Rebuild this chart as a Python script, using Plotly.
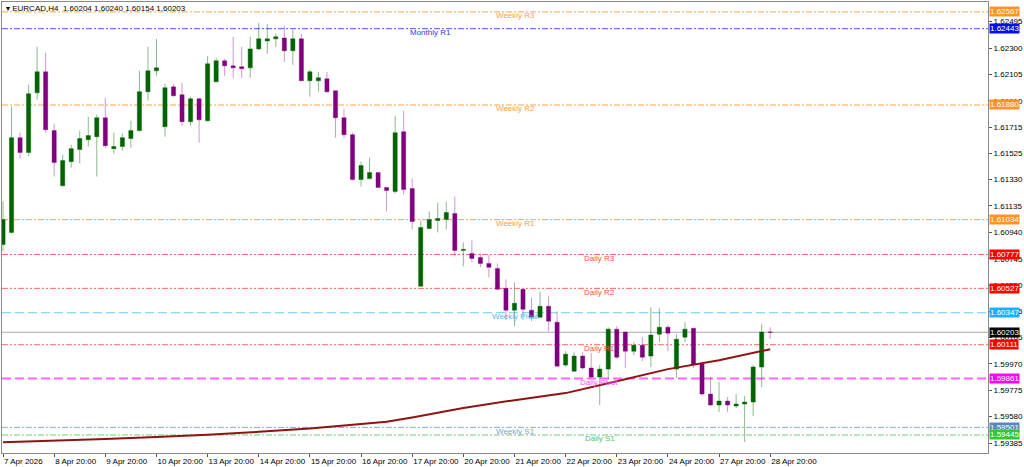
import plotly.graph_objects as go

# ---------------- data ----------------
trade_days = ["2026-04-07", "2026-04-08", "2026-04-09", "2026-04-10", "2026-04-13", "2026-04-14",
              "2026-04-15", "2026-04-16", "2026-04-17", "2026-04-20", "2026-04-21", "2026-04-22",
              "2026-04-23", "2026-04-24", "2026-04-27", "2026-04-28"]
h4_hours = ["00:00", "04:00", "08:00", "12:00", "16:00", "20:00"]
times = ["2026-04-07 20:00"] + [f"{d} {h}" for d in trade_days[1:] for h in h4_hours]

opens = [1.60851, 1.60940, 1.61639, 1.61529, 1.61970, 1.62125, 1.61691, 1.61285, 1.61462, 1.61551,
         1.61624, 1.61646, 1.61786, 1.61558, 1.61573, 1.61632, 1.61691, 1.61978, 1.62132, 1.61720,
         1.62014, 1.61956, 1.61757, 1.61926, 1.61764, 1.62051, 1.62206, 1.62169, 1.62162, 1.62154,
         1.62294, 1.62353, 1.62368, 1.62375, 1.62280, 1.62368, 1.62059, 1.62059, 1.62073, 1.61985,
         1.61786, 1.61661, 1.61330, 1.61337, 1.61381, 1.61271, 1.61241, 1.61683, 1.61263, 1.60542,
         1.60969, 1.61028, 1.61035, 1.61079, 1.60807, 1.60785, 1.60755, 1.60711, 1.60674, 1.60527,
         1.60366, 1.60520, 1.60366, 1.60314, 1.60395, 1.60277, 1.59961, 1.59916, 1.60027, 1.59939,
         1.59872, 1.59931, 1.60226, 1.60204, 1.60063, 1.60108, 1.60027, 1.60189, 1.60240, 1.59931,
         1.60167, 1.60233, 1.59968, 1.59747, 1.59666, 1.59695, 1.59659, 1.59673, 1.59688, 1.59946,
         1.60204]
highs = [1.61168, 1.61867, 1.61676, 1.62029, 1.62309, 1.62265, 1.61742, 1.61514, 1.61587, 1.61691,
         1.61793, 1.61808, 1.61933, 1.61676, 1.61669, 1.61764, 1.62132, 1.62309, 1.62368, 1.62036,
         1.62036, 1.62044, 1.61941, 1.61933, 1.62243, 1.62228, 1.62221, 1.62383, 1.62309, 1.62383,
         1.62486, 1.62478, 1.62405, 1.62464, 1.62434, 1.62405, 1.62140, 1.62125, 1.62125, 1.61985,
         1.61852, 1.61676, 1.61462, 1.61492, 1.61381, 1.61278, 1.61801, 1.61838, 1.61337, 1.61028,
         1.61094, 1.61160, 1.61168, 1.61205, 1.60866, 1.60881, 1.60785, 1.60776, 1.60711, 1.60594,
         1.60571, 1.60520, 1.60460, 1.60505, 1.60468, 1.60358, 1.60063, 1.60056, 1.60056, 1.60049,
         1.59961, 1.60240, 1.60248, 1.60211, 1.60130, 1.60167, 1.60387, 1.60380, 1.60255, 1.60189,
         1.60277, 1.60233, 1.59983, 1.59872, 1.59835, 1.59725, 1.59747, 1.59732, 1.59961, 1.60263,
         1.60240]
lows = [1.60800, 1.60932, 1.61484, 1.61499, 1.61919, 1.61676, 1.61352, 1.61278, 1.61418, 1.61448,
        1.61573, 1.61352, 1.61565, 1.61521, 1.61543, 1.61565, 1.61683, 1.61911, 1.62095, 1.61646,
        1.61941, 1.61727, 1.61727, 1.61602, 1.61757, 1.62051, 1.62095, 1.62081, 1.62081, 1.62081,
        1.62287, 1.62257, 1.62309, 1.62198, 1.62176, 1.62059, 1.61941, 1.61978, 1.61970, 1.61639,
        1.61639, 1.61322, 1.61278, 1.61330, 1.61271, 1.61094, 1.61227, 1.61219, 1.60962, 1.60542,
        1.60962, 1.60940, 1.60962, 1.60763, 1.60689, 1.60719, 1.60682, 1.60608, 1.60512, 1.60292,
        1.60248, 1.60292, 1.60285, 1.60307, 1.60211, 1.59953, 1.59946, 1.59909, 1.59931, 1.59865,
        1.59666, 1.59857, 1.60005, 1.59939, 1.60034, 1.59990, 1.59946, 1.60130, 1.60063, 1.59865,
        1.60130, 1.59939, 1.59732, 1.59659, 1.59614, 1.59614, 1.59644, 1.59394, 1.59585, 1.59798,
        1.60154]
closes = [1.61035, 1.61639, 1.61529, 1.61963, 1.62125, 1.61698, 1.61455, 1.61470, 1.61558, 1.61632,
          1.61654, 1.61786, 1.61580, 1.61573, 1.61639, 1.61691, 1.61978, 1.62132, 1.62154, 1.62007,
          1.61948, 1.61757, 1.61926, 1.61771, 1.62184, 1.62206, 1.62169, 1.62154, 1.62147, 1.62294,
          1.62368, 1.62368, 1.62383, 1.62280, 1.62368, 1.62059, 1.62125, 1.62081, 1.61978, 1.61786,
          1.61661, 1.61330, 1.61433, 1.61381, 1.61271, 1.61249, 1.61676, 1.61256, 1.61020, 1.60976,
          1.61035, 1.61043, 1.61087, 1.60807, 1.60814, 1.60748, 1.60711, 1.60682, 1.60520, 1.60366,
          1.60417, 1.60373, 1.60314, 1.60395, 1.60285, 1.59953, 1.60041, 1.60027, 1.59939, 1.59872,
          1.59931, 1.60226, 1.60019, 1.60063, 1.60108, 1.60019, 1.60182, 1.60240, 1.60196, 1.60152,
          1.60226, 1.59968, 1.59747, 1.59666, 1.59695, 1.59666, 1.59673, 1.59688, 1.59946, 1.60204,
          1.60203]

# moving average, read at selected bars
ma_times = ["2026-04-07 20:00", "2026-04-08 20:00", "2026-04-09 20:00", "2026-04-10 20:00",
            "2026-04-13 20:00", "2026-04-14 20:00", "2026-04-15 20:00", "2026-04-16 20:00",
            "2026-04-17 08:00", "2026-04-17 20:00", "2026-04-20 20:00", "2026-04-21 20:00",
            "2026-04-22 20:00", "2026-04-23 20:00", "2026-04-24 20:00", "2026-04-27 20:00",
            "2026-04-28 20:00"]
ma_values = [1.59391, 1.59401, 1.59415, 1.59430, 1.59446, 1.59468, 1.59493, 1.59526,
             1.59543, 1.59574, 1.59644, 1.59702, 1.59754, 1.59842, 1.59931, 1.59997, 1.60078]

# pivot levels
level_names = ["Weekly R3", "Monthly R1", "Weekly R2", "Weekly R1", "Daily R3", "Daily R2",
               "Weekly Pivot", "Daily R1", "Daily Pivot", "Weekly S1", "Daily S1"]
level_values = [1.62567, 1.62443, 1.61880, 1.61034, 1.60777, 1.60527,
                1.60347, 1.60111, 1.59861, 1.59501, 1.59445]

current_price = 1.60203

tick_times = ["2026-04-07 20:00"] + [f"{d} 20:00" for d in trade_days[1:]]
tick_labels = ["7 Apr 2026", "8 Apr 20:00", "9 Apr 20:00", "10 Apr 20:00", "13 Apr 20:00",
               "14 Apr 20:00", "15 Apr 20:00", "16 Apr 20:00", "17 Apr 20:00", "20 Apr 20:00",
               "21 Apr 20:00", "22 Apr 20:00", "23 Apr 20:00", "24 Apr 20:00", "27 Apr 20:00",
               "28 Apr 20:00"]
price_ticks = [1.62495, 1.62300, 1.62105, 1.61910, 1.61715, 1.61525, 1.61330, 1.61135, 1.60940,
               1.60745, 1.60550, 1.60355, 1.60165, 1.59970, 1.59775, 1.59580, 1.59385]

# ---------------- styles ----------------
FONT = "Liberation Sans, Arial, sans-serif"
level_style = {
    "Weekly R3":    dict(line="#FFA64D", box="#FF9329", text="#FFA040", dash="6px,2px,2px,2px", w=1, pos=60.1),
    "Monthly R1":   dict(line="#5050FF", box="#0A0AF0", text="#3A3AE0", dash="6px,2px,2px,2px", w=1, pos=50.1),
    "Weekly R2":    dict(line="#FFA64D", box="#FF9329", text="#FFA040", dash="6px,2px,2px,2px", w=1, pos=60.1),
    "Weekly R1":    dict(line="#FFA64D", box="#FF9329", text="#FFA040", dash="6px,2px,2px,2px", w=1, pos=60.1),
    "Daily R3":     dict(line="#FF6464", box="#FF0000", text="#FF5050", dash="6px,2px,2px,2px,2px,2px", w=1, pos=70.0),
    "Daily R2":     dict(line="#FF6464", box="#FF0000", text="#FF5050", dash="6px,2px,2px,2px,2px,2px", w=1, pos=70.0),
    "Weekly Pivot": dict(line="#6CCBF5", box="#1EB0FF", text="#50B8F0", dash="9px,4px", w=1, pos=60.1),
    "Daily R1":     dict(line="#FF6464", box="#FF0000", text="#FF5050", dash="6px,2px,2px,2px,2px,2px", w=1, pos=70.0),
    "Daily Pivot":  dict(line="#FF66FF", box="#FF00FF", text="#FF50FF", dash="9px,4px", w=2, pos=70.0),
    "Weekly S1":    dict(line="#86AEDC", box="#5B88BD", text="#7FA2D2", dash="6px,2px,2px,2px", w=1, pos=60.1),
    "Daily S1":     dict(line="#70D070", box="#33C833", text="#60C060", dash="6px,2px,2px,2px", w=1, pos=70.0),
}

fig = go.Figure()

fig.add_trace(go.Candlestick(
    x=times, open=opens, high=highs, low=lows, close=closes,
    increasing=dict(line=dict(color="rgba(0,100,0,0.45)", width=1), fillcolor="#006400"),
    decreasing=dict(line=dict(color="rgba(128,0,128,0.40)", width=1), fillcolor="#800080"),
    whiskerwidth=0, showlegend=False))

fig.add_trace(go.Scatter(
    x=ma_times, y=ma_values, mode="lines",
    line=dict(color="#8E1414", width=2), hoverinfo="skip", showlegend=False))

shapes = []
annotations = []
for name, val in zip(level_names, level_values):
    st = level_style[name]
    shapes.append(dict(type="line", xref="paper", x0=0, x1=1, yref="y", y0=val, y1=val,
                       line=dict(color=st["line"], width=st["w"], dash=st["dash"]), layer="below"))
    annotations.append(dict(x=st["pos"], y=val, xref="x", yref="y", text=name, showarrow=False,
                            xanchor="center", yanchor="middle", yshift=-4,
                            font=dict(family=FONT, size=8, color=st["text"])))
    annotations.append(dict(x=1, y=val, xref="paper", yref="y", text=f"{val:.5f}", showarrow=False,
                            xanchor="left", yanchor="middle", xshift=1, bgcolor=st["box"], borderpad=0,
                            font=dict(family=FONT, size=8, color="white")))

shapes.append(dict(type="line", xref="paper", x0=0, x1=1, yref="y", y0=current_price, y1=current_price,
                   line=dict(color="#A8A8A8", width=1), layer="below"))
annotations.append(dict(x=1, y=current_price, xref="paper", yref="y", text=f"{current_price:.5f}",
                        showarrow=False, xanchor="left", yanchor="middle", xshift=1, bgcolor="#000000",
                        borderpad=0, font=dict(family=FONT, size=8, color="white")))

annotations.append(dict(x=0, y=1, xref="paper", yref="paper", xanchor="left", yanchor="top",
                        xshift=2, yshift=0, showarrow=False,
                        text="▾ EURCAD,H4  1.60204 1.60240 1.60154 1.60203",
                        font=dict(family=FONT, size=8, color="black")))

fig.update_layout(
    width=1024, height=467,
    margin=dict(l=1, r=34, t=2, b=13),
    paper_bgcolor="white", plot_bgcolor="white",
    showlegend=False,
    shapes=shapes, annotations=annotations,
    xaxis=dict(type="category", categoryorder="array", categoryarray=times,
               range=[-0.12, 115.55], rangeslider=dict(visible=False),
               tickmode="array", tickvals=tick_times, ticktext=tick_labels, tickangle=0,
               ticks="outside", ticklen=3, tickcolor="#555", ticklabelposition="outside right",
               tickfont=dict(family=FONT, size=8, color="black"),
               showgrid=False, zeroline=False, showline=True, linecolor="#8A8A8A", linewidth=1,
               mirror=True, fixedrange=True),
    yaxis=dict(side="right", range=[1.59312, 1.62640], tickmode="array", tickvals=price_ticks,
               tickformat=".5f", ticks="outside", ticklen=3, tickcolor="#555",
               tickfont=dict(family=FONT, size=8, color="black"),
               showgrid=False, zeroline=False, showline=True, linecolor="#8A8A8A", linewidth=1,
               mirror=True, fixedrange=True),
    hovermode=False,
)

fig.write_html("out.html", config=dict(displayModeBar=False),
               post_script="document.body.style.margin='0';document.body.style.overflow='hidden';")
